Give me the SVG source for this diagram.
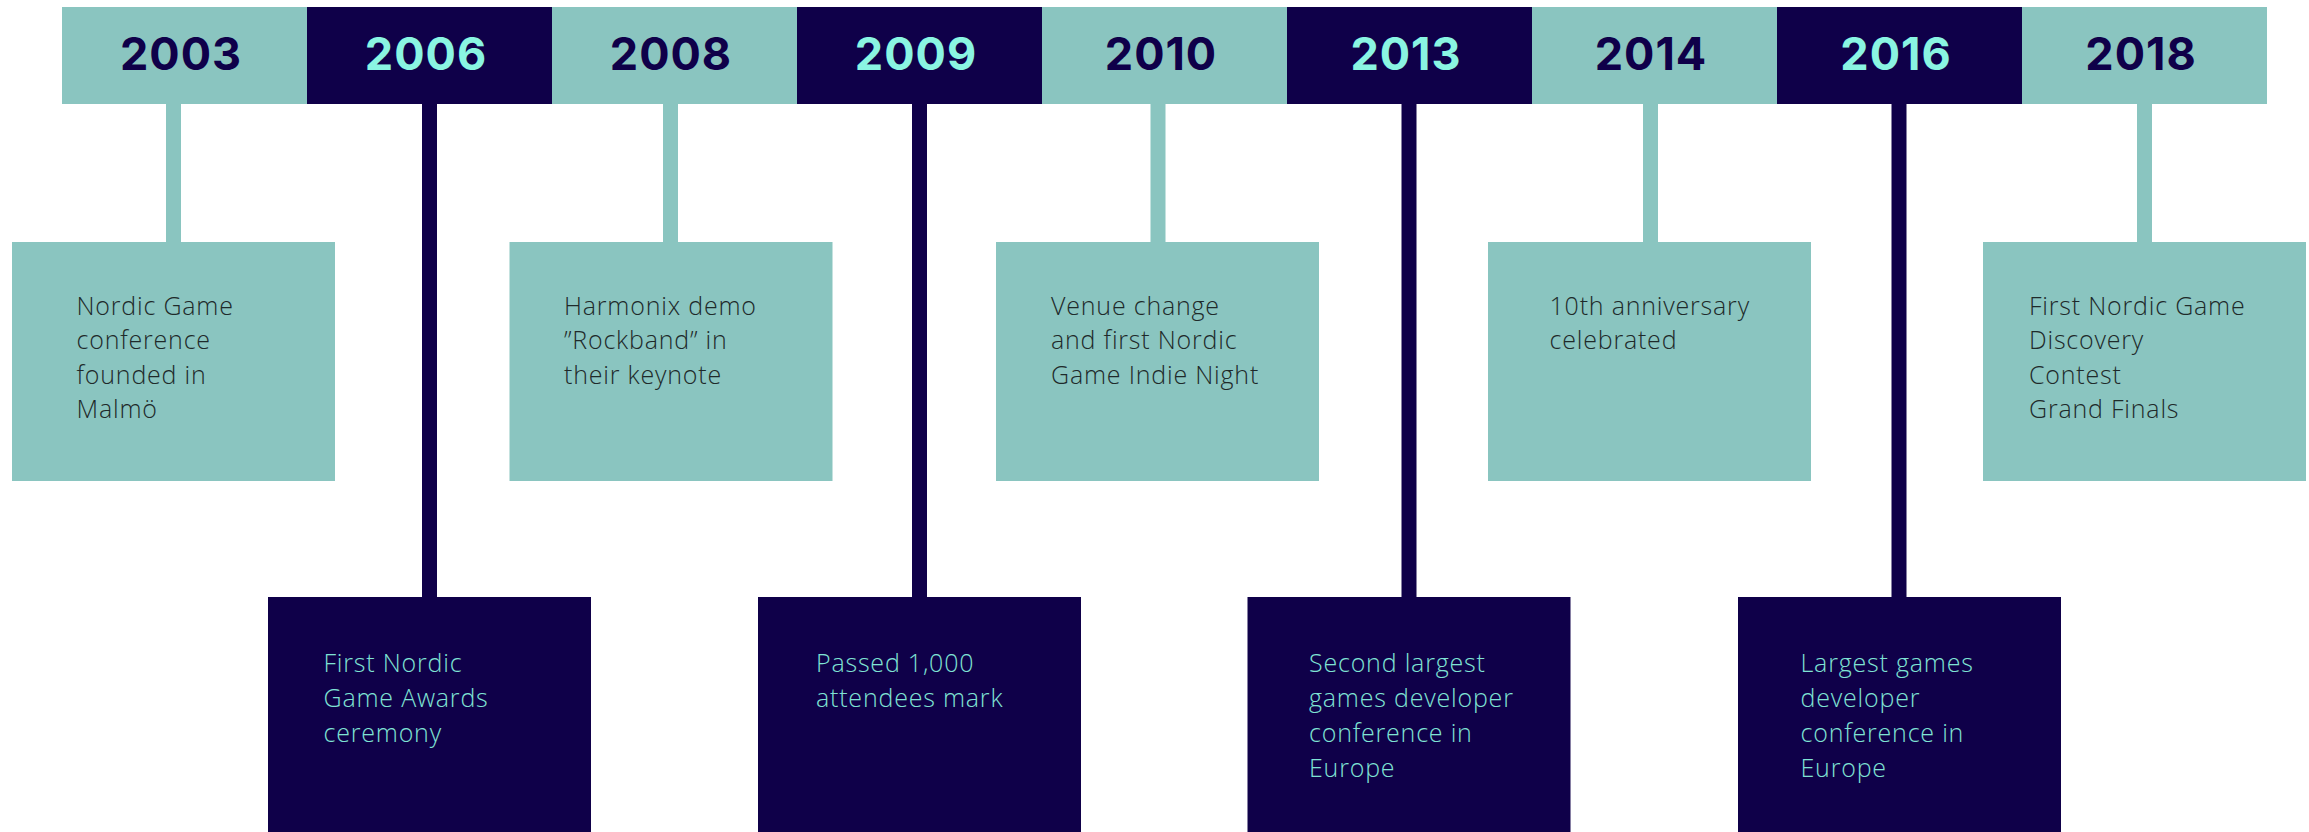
<svg xmlns="http://www.w3.org/2000/svg" width="2309" height="832" viewBox="0 0 2309 832">
<style>
.teal{fill:#8AC5C0}
.navy{fill:#0F0049}
.yr{font-family:Inter,"Liberation Sans",Arial,sans-serif;font-weight:700;font-size:45px;text-anchor:middle;letter-spacing:1px}
.yd{fill:#0F0049}
.yl{fill:#8AF5E2}
.t{font-family:"Open Sans","Liberation Sans",sans-serif;font-weight:300;font-size:25px;letter-spacing:0.8px}
.td{fill:#1E2A2A}
.tl{fill:#7FE3D4}
</style>
<rect width="2309" height="832" fill="#ffffff"/>
<g id="connectors">
<rect class="teal" x="166" y="100" width="15" height="145"/>
<rect class="navy" x="422" y="100" width="15" height="500"/>
<rect class="teal" x="663" y="100" width="15" height="145"/>
<rect class="navy" x="912" y="100" width="15" height="500"/>
<rect class="teal" x="1150.5" y="100" width="15" height="145"/>
<rect class="navy" x="1401.5" y="100" width="15" height="500"/>
<rect class="teal" x="1643" y="100" width="15" height="145"/>
<rect class="navy" x="1891.5" y="100" width="15" height="500"/>
<rect class="teal" x="2137" y="100" width="15" height="145"/>
</g>
<g id="year-2003"><rect class="teal" x="62" y="7" width="245" height="97"/><text class="yr yd" x="181" y="70">2003</text></g>
<g id="year-2006"><rect class="navy" x="307" y="7" width="245" height="97"/><text class="yr yl" x="426" y="70">2006</text></g>
<g id="year-2008"><rect class="teal" x="552" y="7" width="245" height="97"/><text class="yr yd" x="671" y="70">2008</text></g>
<g id="year-2009"><rect class="navy" x="797" y="7" width="245" height="97"/><text class="yr yl" x="916" y="70">2009</text></g>
<g id="year-2010"><rect class="teal" x="1042" y="7" width="245" height="97"/><text class="yr yd" x="1161" y="70">2010</text></g>
<g id="year-2013"><rect class="navy" x="1287" y="7" width="245" height="97"/><text class="yr yl" x="1406" y="70">2013</text></g>
<g id="year-2014"><rect class="teal" x="1532" y="7" width="245" height="97"/><text class="yr yd" x="1651" y="70">2014</text></g>
<g id="year-2016"><rect class="navy" x="1777" y="7" width="245" height="97"/><text class="yr yl" x="1896" y="70">2016</text></g>
<g id="year-2018"><rect class="teal" x="2022" y="7" width="245" height="97"/><text class="yr yd" x="2141" y="70">2018</text></g>

<g id="event-2003"><rect class="teal" x="12" y="242" width="323" height="239"/>
<text class="t td"><tspan x="76.5" y="315">Nordic Game</tspan><tspan x="76.5" y="349.3">conference</tspan><tspan x="76.5" y="383.6">founded in</tspan><tspan x="76.5" y="418">Malmö</tspan></text></g>
<g id="event-2006"><rect class="navy" x="268" y="597" width="323" height="235"/>
<text class="t tl"><tspan x="323.5" y="672">First Nordic</tspan><tspan x="323.5" y="707">Game Awards</tspan><tspan x="323.5" y="742">ceremony</tspan></text></g>
<g id="event-2008"><rect class="teal" x="509.5" y="242" width="323" height="239"/>
<text class="t td"><tspan x="564" y="315">Harmonix demo</tspan><tspan x="564" y="349.3">”Rockband” in</tspan><tspan x="564" y="383.6">their keynote</tspan></text></g>
<g id="event-2009"><rect class="navy" x="758" y="597" width="323" height="235"/>
<text class="t tl"><tspan x="816" y="672">Passed 1,000</tspan><tspan x="816" y="707">attendees mark</tspan></text></g>
<g id="event-2010"><rect class="teal" x="996" y="242" width="323" height="239"/>
<text class="t td"><tspan x="1051" y="315">Venue change</tspan><tspan x="1051" y="349.3">and first Nordic</tspan><tspan x="1051" y="383.6">Game Indie Night</tspan></text></g>
<g id="event-2013"><rect class="navy" x="1247.5" y="597" width="323" height="235"/>
<text class="t tl"><tspan x="1309" y="672">Second largest</tspan><tspan x="1309" y="707">games developer</tspan><tspan x="1309" y="742">conference in</tspan><tspan x="1309" y="777">Europe</tspan></text></g>
<g id="event-2014"><rect class="teal" x="1488" y="242" width="323" height="239"/>
<text class="t td"><tspan x="1549.5" y="315">10th anniversary</tspan><tspan x="1549.5" y="349.3">celebrated</tspan></text></g>
<g id="event-2016"><rect class="navy" x="1738" y="597" width="323" height="235"/>
<text class="t tl"><tspan x="1800.5" y="672">Largest games</tspan><tspan x="1800.5" y="707">developer</tspan><tspan x="1800.5" y="742">conference in</tspan><tspan x="1800.5" y="777">Europe</tspan></text></g>
<g id="event-2018"><rect class="teal" x="1983" y="242" width="323" height="239"/>
<text class="t td"><tspan x="2029" y="315">First Nordic Game</tspan><tspan x="2029" y="349.3">Discovery</tspan><tspan x="2029" y="383.6">Contest</tspan><tspan x="2029" y="418">Grand Finals</tspan></text></g>
</svg>
